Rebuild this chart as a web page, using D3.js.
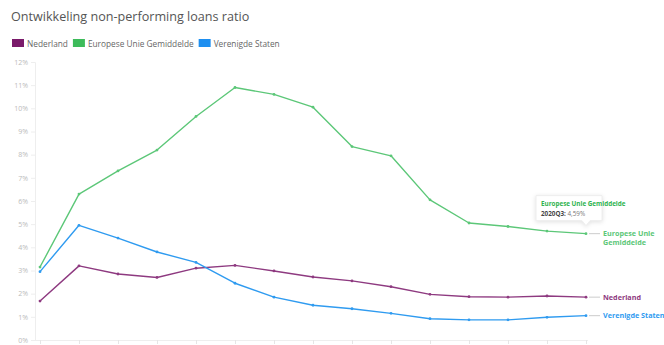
<!DOCTYPE html>
<html>
<head>
<meta charset="utf-8">
<script src="https://cdn.jsdelivr.net/npm/d3@7"></script>
<style>
  body { margin: 0; background: #fff; font-family: "Open Sans", "DejaVu Sans", sans-serif; }
</style>
</head>
<body>
<div id="chart"></div>
<script>
// quarters (x categories), not labelled on the axis
var periods = ["2017Q1", "2017Q2", "2017Q3", "2017Q4", "2018Q1", "2018Q2", "2018Q3", "2018Q4",
    "2019Q1", "2019Q2", "2019Q3", "2019Q4", "2020Q1", "2020Q2", "2020Q3"];

var nederland = [1.68, 3.2, 2.85, 2.7, 3.1, 3.22, 2.98, 2.72, 2.55, 2.3, 1.97, 1.87, 1.85, 1.9, 1.85];
var europeseUnie = [3.15, 6.3, 7.3, 8.2, 9.65, 10.9, 10.6, 10.05, 8.35, 7.95, 6.05, 5.05, 4.9, 4.7, 4.59];
var verenigdeStaten = [2.95, 4.95, 4.4, 3.8, 3.35, 2.45, 1.85, 1.5, 1.35, 1.15, 0.92, 0.87, 0.87, 0.98, 1.05];

var yTicks = [0, 1, 2, 3, 4, 5, 6, 7, 8, 9, 10, 11, 12];

var series = [
    { name: "Nederland", label: ["Nederland"], values: nederland, color: "#8e3a80", legend: "#7a1a6a" },
    { name: "Europese Unie Gemiddelde", label: ["Europese Unie", "Gemiddelde"], values: europeseUnie, color: "#5cc778", legend: "#3dbb5a" },
    { name: "Verenigde Staten", label: ["Verenigde Staten"], values: verenigdeStaten, color: "#2f9bf0", legend: "#1e8ff0" }
];

var width = 664, height = 345;
var margin = { top: 62, right: 78, bottom: 5, left: 40 };

var svg = d3.select("#chart").append("svg")
    .attr("width", width)
    .attr("height", height);

// title
svg.append("text")
    .attr("x", 11)
    .attr("y", 21)
    .attr("fill", "#555")
    .style("font-size", "12.6px")
    .text("Ontwikkeling non-performing loans ratio");

// legend
var lx = 12;
series.forEach(function (s) {
    svg.append("rect")
        .attr("x", lx).attr("y", 39)
        .attr("width", 12).attr("height", 8)
        .attr("fill", s.legend);
    var t = svg.append("text")
        .attr("x", lx + 15).attr("y", 46.5)
        .attr("fill", "#666")
        .style("font-size", "8.3px")
        .text(s.name);
    lx += 15 + t.node().getComputedTextLength() + 5;
});

var x = d3.scalePoint()
    .domain(periods)
    .range([margin.left, width - margin.right]);

var y = d3.scaleLinear()
    .domain([0, 12])
    .range([height - margin.bottom, margin.top]);

// y axis
var yAxis = svg.append("g")
    .attr("transform", "translate(35,0)")
    .call(d3.axisLeft(y).tickValues(yTicks).tickSize(4).tickFormat(function (d) { return d + "%"; }));
yAxis.select(".domain").attr("stroke", "#eee");
yAxis.selectAll(".tick line").attr("stroke", "#eee");
yAxis.selectAll("text")
    .attr("fill", "#bbb")
    .style("font-size", "7px")
    .style("font-family", "Open Sans, sans-serif");

// x axis
var xAxis = svg.append("g")
    .attr("transform", "translate(0," + (height - margin.bottom) + ")")
    .call(d3.axisBottom(x).tickSize(4).tickFormat(""));
xAxis.select(".domain")
    .attr("d", "M35,0.5H" + (width - margin.right + 2))
    .attr("stroke", "#eee");
xAxis.selectAll(".tick line").attr("stroke", "#e6e6e6");

var line = d3.line()
    .x(function (d, i) { return x(periods[i]); })
    .y(function (d) { return y(d); });

series.forEach(function (s) {
    svg.append("path")
        .datum(s.values)
        .attr("fill", "none")
        .attr("stroke", s.color)
        .attr("stroke-width", 1.4)
        .attr("stroke-linejoin", "round")
        .attr("d", line);

    svg.selectAll(null)
        .data(s.values)
        .join("circle")
        .attr("cx", function (d, i) { return x(periods[i]); })
        .attr("cy", function (d) { return y(d); })
        .attr("r", 1.4)
        .attr("fill", s.color);

    // end label with connector
    var last = s.values[s.values.length - 1];
    var ex = x(periods[periods.length - 1]);
    var ey = y(last);
    svg.append("line")
        .attr("x1", ex + 3).attr("x2", ex + 14)
        .attr("y1", ey).attr("y2", ey)
        .attr("stroke", "#ccc");
    var lab = svg.append("text")
        .attr("x", ex + 17)
        .attr("y", ey + 2.5)
        .attr("fill", s.color)
        .style("font-size", "7.2px")
        .style("font-weight", "bold");
    s.label.forEach(function (l, i) {
        lab.append("tspan")
            .attr("x", ex + 17)
            .attr("dy", i === 0 ? 0 : 8.5)
            .text(l);
    });
});

// tooltip on last EU point
var tipX = x(periods[periods.length - 1]);
var tipY = y(europeseUnie[europeseUnie.length - 1]);
var tip = svg.append("g");
tip.append("path")
    .attr("d", "M" + (tipX - 50) + "," + (tipY - 38) + "h66v25h-12l-4,5l-4,-5h-46z")
    .attr("fill", "#fff")
    .attr("stroke", "#eee")
    .style("filter", "drop-shadow(0 1px 2px rgba(0,0,0,0.12))");
tip.append("text")
    .attr("x", tipX - 45).attr("y", tipY - 28)
    .attr("fill", "#2fb34f")
    .style("font-size", "6.3px")
    .style("font-weight", "bold")
    .text("Europese Unie Gemiddelde");
var t2 = tip.append("text")
    .attr("x", tipX - 45).attr("y", tipY - 18)
    .style("font-size", "6.3px");
t2.append("tspan").attr("fill", "#444").style("font-weight", "bold").text(periods[periods.length - 1] + ": ");
t2.append("tspan").attr("fill", "#777").text(d3.format(".2f")(europeseUnie[europeseUnie.length - 1]).replace(".", ",") + "%");
</script>
</body>
</html>
